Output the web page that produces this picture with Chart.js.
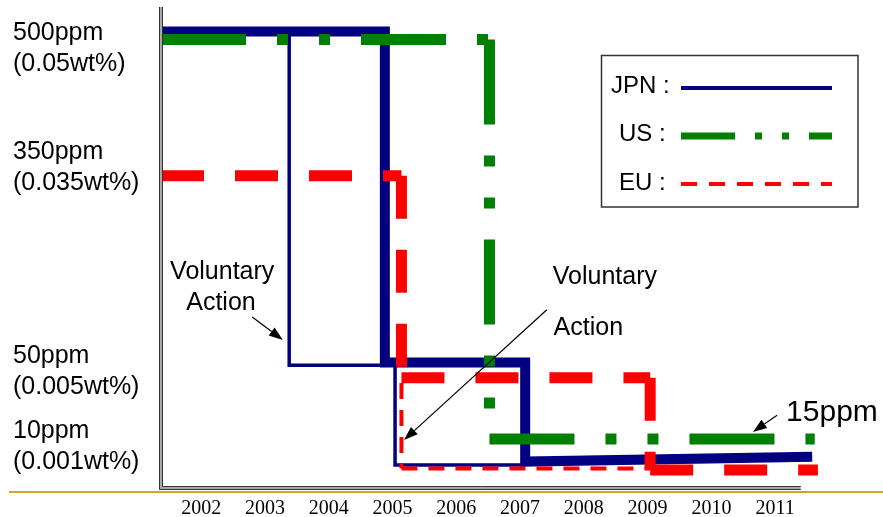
<!DOCTYPE html>
<html><head><meta charset="utf-8">
<script src="https://cdn.jsdelivr.net/npm/chart.js@4.4.1/dist/chart.umd.min.js"></script>
<style>html,body{margin:0;padding:0;background:#fff}#wrap{width:883px;height:517px}</style>
</head><body><div id="wrap"><canvas id="c" width="883" height="517"></canvas></div>
<script>
// ---- data (x = year position, y = schematic level on the chart, 0..100) ----
const years = [2002, 2003, 2004, 2005, 2006, 2007, 2008, 2009, 2010, 2011];
const yTickLevels = [91.5, 66.7, 24.0, 8.35];
const yTickLabels = [['500ppm', '(0.05wt%)'], ['350ppm', '(0.035wt%)'], ['50ppm', '(0.005wt%)'], ['10ppm', '(0.001wt%)']];

const jpnX = [2001.37, 2004.88, 2004.88, 2007.08, 2007.08, 2011.58];
const jpnY = [95.1, 95.1, 26.0, 26.0, 5.3, 6.3];
const jpnVolX = [2003.38, 2003.38, 2004.88, 2004.95, 2005.04, 2005.04, 2007.08];
const jpnVolY = [95.1, 25.4, 25.4, null, 26.0, 4.6, 4.6];
const usX = [2001.37, 2006.52, 2006.52, 2011.62];
const usY = [93.4, 93.4, 10.0, 10.0];
const euX = [2001.37, 2005.14, 2005.14, 2009.04, 2009.04, 2011.67];
const euY = [65.0, 65.0, 22.8, 22.8, 3.55, 3.55];
const euVolX = [2005.14, 2005.14, 2009.04];
const euVolY = [21.7, 3.85, 3.85];

const notes = [
  {text: 'Voluntary', x: 2002.33, y: 45.1, size: 25},
  {text: 'Action', x: 2002.31, y: 38.6, size: 25},
  {text: 'Voluntary', x: 2008.33, y: 44.0, size: 25},
  {text: 'Action', x: 2008.07, y: 33.4, size: 25},
  {text: '15ppm', x: 2011.89, y: 15.8, size: 30}
];
const arrows = [
  {x0: 2002.80, y0: 35.5, x1: 2003.28, y1: 30.7},
  {x0: 2007.42, y0: 37.0, x1: 2005.18, y1: 9.8},
  {x0: 2011.03, y0: 15.0, x1: 2010.65, y1: 11.5}
];

const pts = (xs, ys) => xs.map((x, i) => ({x: x, y: ys[i]}));
const restart = ctx => (ctx.p0DataIndex % 2) * 0.001;
const SANS = '"Liberation Sans", Arial, sans-serif';

const datasets = [
  {label: 'EU', legend: true, legendDash: [16, 12], legendWidth: 4, data: pts(euX, euY),
   borderColor: '#FF0000', borderWidth: 11, borderDash: [43, 31], segment: {borderDashOffset: restart}},
  {label: 'EU voluntary', data: pts(euVolX, euVolY), borderColor: '#FF0000', borderWidth: 4,
   borderDash: [16, 11], segment: {borderDashOffset: restart}},
  {label: 'US', legend: true, legendDash: [54, 20, 7, 20, 7, 20], legendWidth: 7, data: pts(usX, usY),
   borderColor: '#008000', borderWidth: 11, borderDash: [85, 31, 11, 31, 11, 31], segment: {borderDashOffset: restart}},
  {label: 'JPN voluntary', data: pts(jpnVolX, jpnVolY), borderColor: '#000080', borderWidth: 3.5, spanGaps: false},
  {label: 'JPN', legend: true, legendDash: [], legendWidth: 4, data: pts(jpnX, jpnY),
   borderColor: '#000080', borderWidth: 10, borderJoinStyle: 'miter'}
];
datasets.forEach(d => { d.pointRadius = 0; d.fill = false; d.tension = 0; d.borderCapStyle = d.borderCapStyle || 'butt'; });

const decor = {
  id: 'decor',
  afterDatasetsDraw(chart) {
    const ctx = chart.ctx, xs = chart.scales.x, ys = chart.scales.y, a = chart.chartArea;
    ctx.save();
    // orange rule
    ctx.fillStyle = '#D9A21B';
    ctx.fillRect(9, 491, 874, 2);
    // axes (double line)
    const xEnd = xs.getPixelForValue(2011.4);
    ctx.fillStyle = '#A8A8A8';
    ctx.fillRect(a.left - 2, a.top - 1, 4, a.bottom - a.top + 3);
    ctx.fillRect(a.left - 2, a.bottom - 1, xEnd - a.left + 2, 4);
    ctx.strokeStyle = '#333';
    ctx.lineWidth = 1;
    ctx.beginPath();
    ctx.moveTo(a.left - 1.5, a.top - 1); ctx.lineTo(a.left - 1.5, a.bottom + 2.5); ctx.lineTo(xEnd, a.bottom + 2.5);
    ctx.moveTo(a.left + 1.5, a.top - 1); ctx.lineTo(a.left + 1.5, a.bottom - 0.5); ctx.lineTo(xEnd, a.bottom - 0.5);
    ctx.stroke();
    ctx.restore();
  },
  afterDraw(chart) {
    const ctx = chart.ctx, xs = chart.scales.x, ys = chart.scales.y;
    ctx.save();
    ctx.fillStyle = '#000';
    ctx.textAlign = 'center';
    ctx.textBaseline = 'middle';
    notes.forEach(n => {
      ctx.font = n.size + 'px ' + SANS;
      ctx.fillText(n.text, xs.getPixelForValue(n.x), ys.getPixelForValue(n.y) + 1);
    });
    // arrows
    arrows.forEach(r => {
      const x0 = xs.getPixelForValue(r.x0), y0 = ys.getPixelForValue(r.y0);
      const x1 = xs.getPixelForValue(r.x1), y1 = ys.getPixelForValue(r.y1);
      const ang = Math.atan2(y1 - y0, x1 - x0), L = 14, W = 5;
      const bx = x1 - L * Math.cos(ang), by = y1 - L * Math.sin(ang);
      ctx.strokeStyle = '#000'; ctx.lineWidth = 1.2;
      ctx.beginPath(); ctx.moveTo(x0, y0); ctx.lineTo(bx, by); ctx.stroke();
      ctx.beginPath();
      ctx.moveTo(x1, y1);
      ctx.lineTo(bx + W * Math.sin(ang), by - W * Math.cos(ang));
      ctx.lineTo(bx - W * Math.sin(ang), by + W * Math.cos(ang));
      ctx.closePath(); ctx.fill();
    });
    // legend box
    ctx.strokeStyle = '#333'; ctx.lineWidth = 1.5;
    ctx.strokeRect(601.5, 55.5, 256.5, 151.5);
    const rows = [
      {label: 'JPN', tx: 611, ty: 86, ly: 88},
      {label: 'US', tx: 619, ty: 134, ly: 136},
      {label: 'EU', tx: 619, ty: 183, ly: 184}
    ];
    ctx.font = '24px ' + SANS;
    ctx.textAlign = 'left';
    rows.forEach(r => {
      const ds = chart.data.datasets.find(d => d.legend && d.label === r.label);
      ctx.fillStyle = '#000';
      ctx.fillText(r.label + ' :', r.tx, r.ty);
      ctx.strokeStyle = ds.borderColor;
      ctx.lineWidth = ds.legendWidth;
      ctx.setLineDash(ds.legendDash);
      ctx.lineCap = 'butt';
      ctx.beginPath(); ctx.moveTo(681, r.ly); ctx.lineTo(832, r.ly); ctx.stroke();
      ctx.setLineDash([]);
    });
    ctx.restore();
  }
};

new Chart(document.getElementById('c'), {
  type: 'line',
  data: {datasets: datasets},
  options: {
    responsive: false,
    animation: false,
    layout: {padding: {left: 13, top: 8, right: 23, bottom: 0}},
    plugins: {legend: {display: false}, tooltip: {enabled: false}},
    scales: {
      x: {
        type: 'linear', min: 2001.37, max: 2012.33,
        grid: {display: false}, border: {display: false},
        afterBuildTicks: s => { s.ticks = years.map(v => ({value: v})); },
        afterFit: s => { s.height = 30; s.paddingLeft = 0; s.paddingRight = 0; },
        ticks: {autoSkip: false, maxRotation: 0, padding: 2, color: '#000',
                font: {family: '"Liberation Serif", "Times New Roman", serif', size: 20},
                callback: v => String(v)}
      },
      y: {
        type: 'linear', min: 0, max: 100,
        grid: {display: false}, border: {display: false},
        afterBuildTicks: s => { s.ticks = yTickLevels.map(v => ({value: v})); },
        afterFit: s => { s.width = 148; s.paddingTop = 0; s.paddingBottom = 0; },
        ticks: {crossAlign: 'far', color: '#000', padding: 0,
                font: {family: SANS, size: 25, lineHeight: '31px'},
                callback: (v, i) => yTickLabels[i]}
      }
    }
  },
  plugins: [decor]
});
</script></body></html>
